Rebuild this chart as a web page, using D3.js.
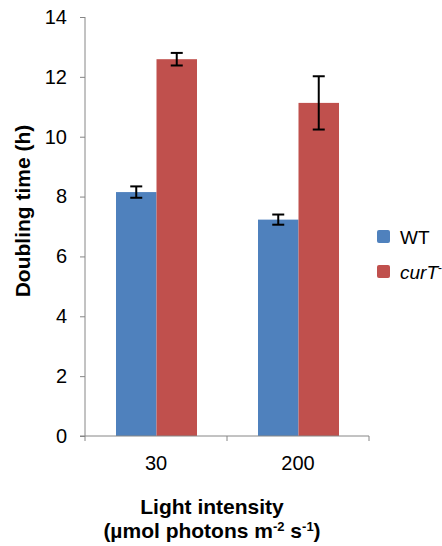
<!DOCTYPE html>
<html>
<head>
<meta charset="utf-8">
<script src="https://cdn.jsdelivr.net/npm/d3@7"></script>
<style>
  body { margin: 0; background: #fff; }
  svg { font-family: 'Liberation Sans', Arial, sans-serif; }
</style>
</head>
<body>
<div id="chart"></div>
<script>
// data
let categories = ["30", "200"];
let seriesNames = ["WT", "curT"];
let wtValues = [8.15, 7.23];
let wtErrors = [0.19, 0.17];
let curTValues = [12.59, 11.13];
let curTErrors = [0.21, 0.89];
let yTicks = [0, 2, 4, 6, 8, 10, 12, 14];
let colors = ["#4F81BD", "#C0504D"];

let width = 442, height = 546;
let margin = { top: 17, left: 85, right: 73, bottom: 110 };
let plotW = 369 - margin.left, plotH = 436 - margin.top;

let svg = d3.select("#chart").append("svg")
  .attr("width", width).attr("height", height);

let g = svg.append("g")
  .attr("transform", "translate(" + margin.left + "," + margin.top + ")");

let y = d3.scaleLinear().domain([0, 14]).range([plotH, 0]);
let x0 = d3.scaleBand().domain(categories).range([0, plotW]);
let x1 = d3.scaleBand().domain(seriesNames).range([31, x0.bandwidth() - 30]);

let rows = categories.map(function (c, i) {
  return {
    cat: c,
    vals: [
      { name: "WT", value: wtValues[i], err: wtErrors[i], color: colors[0] },
      { name: "curT", value: curTValues[i], err: curTErrors[i], color: colors[1] }
    ]
  };
});

// y axis
let yAxis = g.append("g")
  .call(d3.axisLeft(y).tickValues(yTicks).tickSize(5).tickPadding(13));
yAxis.selectAll("text").style("font-size", "20px").style("fill", "#000");
yAxis.selectAll("line").style("stroke", "#868686");
yAxis.select(".domain").style("stroke", "#868686").attr("d", "M0," + plotH + "V0");

// bars
let groups = g.selectAll(".grp").data(rows).enter().append("g")
  .attr("class", "grp")
  .attr("transform", function (d) { return "translate(" + x0(d.cat) + ",0)"; });

groups.selectAll("rect").data(function (d) { return d.vals; }).enter().append("rect")
  .attr("x", function (d) { return x1(d.name); })
  .attr("width", x1.bandwidth())
  .attr("y", function (d) { return y(d.value); })
  .attr("height", function (d) { return plotH - y(d.value); })
  .attr("fill", function (d) { return d.color; });

// error bars
let eb = groups.selectAll(".err").data(function (d) { return d.vals; }).enter().append("g")
  .attr("class", "err")
  .style("stroke", "#000").style("stroke-width", 2);
eb.append("line")
  .attr("x1", function (d) { return x1(d.name) + x1.bandwidth() / 2; })
  .attr("x2", function (d) { return x1(d.name) + x1.bandwidth() / 2; })
  .attr("y1", function (d) { return y(d.value + d.err); })
  .attr("y2", function (d) { return y(d.value - d.err); });
eb.selectAll(".cap").data(function (d) {
  return [{ d: d, v: d.value + d.err }, { d: d, v: d.value - d.err }];
}).enter().append("line")
  .attr("x1", function (c) { return x1(c.d.name) + x1.bandwidth() / 2 - 6; })
  .attr("x2", function (c) { return x1(c.d.name) + x1.bandwidth() / 2 + 6; })
  .attr("y1", function (c) { return y(c.v); })
  .attr("y2", function (c) { return y(c.v); });

// x axis
let xAxis = g.append("g").attr("transform", "translate(0," + plotH + ")");
xAxis.append("line").attr("x1", -5).attr("x2", plotW)
  .style("stroke", "#868686");
xAxis.selectAll(".tk").data([0, x0.bandwidth(), plotW]).enter().append("line")
  .attr("x1", function (d) { return d; }).attr("x2", function (d) { return d; })
  .attr("y1", 0).attr("y2", 5).style("stroke", "#868686");
xAxis.selectAll(".lbl").data(categories).enter().append("text")
  .attr("x", function (d) { return x0(d) + x0.bandwidth() / 2; })
  .attr("y", 34)
  .attr("text-anchor", "middle")
  .style("font-size", "20px")
  .text(function (d) { return d; });

// axis titles
svg.append("text")
  .attr("transform", "translate(30,211) rotate(-90)")
  .attr("text-anchor", "middle")
  .style("font-size", "21px").style("font-weight", "bold")
  .text("Doubling time (h)");

let xt = svg.append("text")
  .attr("text-anchor", "middle")
  .style("font-size", "21px").style("font-weight", "bold");
xt.append("tspan").attr("x", 212).attr("y", 514).text("Light intensity");
let l2 = xt.append("tspan").attr("x", 212).attr("y", 538);
l2.append("tspan").text("(µmol photons m");
l2.append("tspan").attr("dy", -7).style("font-size", "13px").text("-2");
l2.append("tspan").attr("dy", 7).text(" s");
l2.append("tspan").attr("dy", -7).style("font-size", "13px").text("-1");
l2.append("tspan").attr("dy", 7).text(")");

// legend
let leg = svg.append("g").attr("transform", "translate(377,230)");
seriesNames.forEach(function (n, i) {
  let row = leg.append("g").attr("transform", "translate(0," + (i * 35) + ")");
  row.append("rect").attr("width", 13).attr("height", 13).attr("rx", 2)
    .attr("fill", colors[i]);
  let t = row.append("text").attr("x", 23).attr("y", 14).style("font-size", "19px");
  if (n === "curT") {
    t.append("tspan").style("font-style", "italic").text("curT");
    t.append("tspan").attr("dy", -7).style("font-size", "12px").text("-");
  } else {
    t.text(n);
  }
});
</script>
</body>
</html>
